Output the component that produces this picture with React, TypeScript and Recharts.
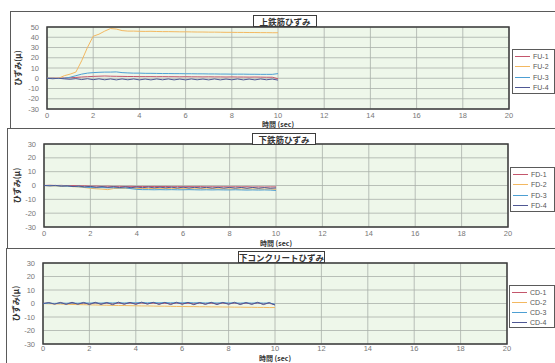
import React from "react";
import { CartesianGrid, Line, LineChart, ReferenceArea, XAxis, YAxis } from "recharts";

// time axis (sec), sampled every 0.25 s up to 10 s
const T = [
  0, 0.25, 0.5, 0.75, 1, 1.25, 1.5, 1.75, 2, 2.25, 2.5, 2.75, 3, 3.25, 3.5, 3.75, 4, 4.25, 4.5,
  4.75, 5, 5.25, 5.5, 5.75, 6, 6.25, 6.5, 6.75, 7, 7.25, 7.5, 7.75, 8, 8.25, 8.5, 8.75, 9, 9.25,
  9.5, 9.75, 10,
];

const X_TICKS = [0, 2, 4, 6, 8, 10, 12, 14, 16, 18, 20];
const Y_TICKS_UPPER = [-30, -20, -10, 0, 10, 20, 30, 40, 50];
const Y_TICKS_LOWER = [-30, -20, -10, 0, 10, 20, 30];

// 上鉄筋ひずみ
const FU_NAMES = ["FU-1", "FU-2", "FU-3", "FU-4"];
const FU1 = [
  0, 0.2, 0, 0.3, 0.5, 0.8, 1.2, 1.5, 1.8, 2.0, 2.2, 2.0, 1.9, 1.8, 1.7, 1.7, 1.6, 1.6, 1.6, 1.5,
  1.6, 1.5, 1.5, 1.4, 1.5, 1.4, 1.4, 1.3, 1.4, 1.3, 1.3, 1.2, 1.3, 1.2, 1.2, 1.1, 1.2, 1.1, 1.0,
  1.0, -0.5,
];
const FU2 = [
  0, 0, 0, 2.5, 4, 6, 17, 30, 41, 43, 46, 48.5, 48, 46.5, 46, 46, 45.8, 45.7, 45.8, 45.6, 45.5,
  45.5, 45.4, 45.3, 45.3, 45.2, 45.1, 45.1, 45, 45, 44.9, 44.8, 44.8, 44.7, 44.7, 44.6, 44.6, 44.5,
  44.5, 44.4, 44.4,
];
const FU3 = [
  0, 0, -0.3, 0, 1, 2.5, 4, 5, 5.5, 5.8, 6, 6, 6.2, 5.5, 5.2, 5, 5, 4.8, 4.8, 4.7, 4.6, 4.6, 4.5,
  4.5, 4.4, 4.4, 4.3, 4.3, 4.2, 4.2, 4.1, 4.1, 4, 4, 4, 3.9, 3.9, 3.8, 3.8, 3.8, 4.5,
];
const FU4 = [
  0, -0.5, 0, -0.6, -1, -0.4, -1.3, -0.5, -1.4, -0.6, -1.5, -0.7, -1.6, -0.7, -1.5, -0.7, -1.6,
  -0.8, -1.6, -0.7, -1.5, -0.7, -1.6, -0.8, -1.6, -0.7, -1.5, -0.8, -1.6, -0.7, -1.6, -0.8, -1.5,
  -0.7, -1.6, -0.8, -1.6, -0.7, -1.5, -0.8, -1.8,
];

// 下鉄筋ひずみ
const FD_NAMES = ["FD-1", "FD-2", "FD-3", "FD-4"];
const FD1 = [
  0, 0.2, 0, 0.1, -0.2, 0, -0.3, -0.2, -0.5, -0.4, -0.6, -0.5, -0.7, -0.6, -0.7, -0.6, -0.8, -0.7,
  -0.8, -0.7, -0.8, -0.7, -0.9, -0.8, -0.9, -0.8, -0.9, -0.8, -1.0, -0.9, -1.0, -0.9, -1.0, -0.9,
  -1.0, -0.9, -1.1, -1.0, -1.1, -1.0, -1.0,
];
const FD2 = [
  0, -0.2, -0.3, -0.5, -0.5, -0.8, -1.0, -1.5, -2.0, -2.4, -2.6, -3.0, -2.2, -2.0, -2.1, -2.0, -2.2,
  -2.1, -2.2, -2.1, -2.3, -2.2, -2.3, -2.2, -2.3, -2.3, -2.4, -2.3, -2.4, -2.3, -2.4, -2.4, -2.5,
  -2.4, -2.5, -2.4, -2.5, -2.5, -2.6, -2.5, -2.8,
];
const FD3 = [
  0, 0, -0.2, -0.3, -0.5, -0.7, -0.9, -1.2, -1.5, -1.6, -1.5, -1.7, -1.6, -1.8, -1.7, -2.3, -2.8,
  -3.0, -3.0, -3.1, -3.0, -3.1, -3.0, -3.1, -3.1, -3.0, -3.1, -3.2, -3.1, -3.2, -3.1, -3.2, -3.2,
  -3.1, -3.2, -3.3, -3.2, -3.3, -3.2, -3.3, -3.6,
];
const FD4 = [
  0, -0.3, 0.1, -0.5, -0.2, -0.8, -0.4, -1.0, -0.6, -1.3, -0.8, -1.4, -0.9, -1.5, -1.0, -1.6, -1.1,
  -1.6, -1.1, -1.7, -1.2, -1.7, -1.2, -1.8, -1.2, -1.8, -1.3, -1.8, -1.3, -1.9, -1.3, -1.9, -1.4,
  -1.9, -1.4, -2.0, -1.4, -2.0, -1.5, -2.0, -1.8,
];

// 下コンクリートひずみ
const CD_NAMES = ["CD-1", "CD-2", "CD-3", "CD-4"];
const CD1 = [
  0, 0.3, -0.2, 0.4, -0.1, 0.3, -0.3, 0.2, -0.2, 0.4, -0.1, 0.3, -0.3, 0.2, -0.2, 0.3, 0, 0.4, -0.1,
  0.3, -0.2, 0.2, -0.3, 0.3, -0.1, 0.2, -0.3, 0.3, -0.2, 0.2, -0.3, 0.3, -0.2, 0.2, -0.3, 0.2, -0.2,
  0.3, -0.3, 0.1, -0.8,
];
const CD2 = [
  0, -0.2, -0.3, -0.4, -0.6, -0.7, -0.8, -0.9, -1.0, -1.1, -1.2, -1.3, -1.4, -1.5, -1.5, -1.6, -1.7,
  -1.8, -1.8, -1.9, -2.0, -2.0, -2.1, -2.2, -2.2, -2.3, -2.3, -2.4, -2.4, -2.5, -2.5, -2.6, -2.6,
  -2.7, -2.7, -2.8, -2.8, -2.9, -2.9, -3.0, -3.0,
];
const CD3 = [
  0, 0.2, 0.1, 0.3, 0.2, 0.4, 0.2, 0.5, 0.3, 0.5, 0.3, 0.6, 0.4, 0.6, 0.4, 0.6, 0.5, 0.7, 0.5, 0.7,
  0.5, 0.7, 0.5, 0.6, 0.5, 0.7, 0.5, 0.6, 0.4, 0.6, 0.4, 0.6, 0.4, 0.5, 0.3, 0.5, 0.3, 0.5, 0.3,
  0.4, -0.5,
];
const CD4 = [
  0, 0.7, -0.5, 0.8, -0.7, 0.9, -0.6, 0.8, -0.8, 0.9, -0.7, 0.7, -0.9, 1.0, -0.6, 0.8, -0.7, 1.0,
  -0.5, 0.9, -0.7, 0.8, -0.8, 0.9, -0.6, 0.8, -0.9, 0.7, -0.7, 0.9, -0.8, 0.8, -0.6, 0.9, -0.8, 0.7,
  -0.7, 0.9, -0.8, 0.7, -1.2,
];

const COLORS = ["#c4566c", "#f3b861", "#4d9fd3", "#4f5894"];
const PLOT_BG = "#eef7ea";
const GRID = "#a9b0a9";
const BORDER = "#3c3c3c";
const FRAME = "#5a5a5a";
const FONT = "'Liberation Sans', Arial, sans-serif";
const JP_FONT = "'Noto Sans CJK JP', sans-serif";

const tickStyle = { fill: "#777", fontSize: 7.5, fontFamily: FONT };

type PanelProps = {
  top: number;
  height: number;
  marginTop: number;
  axisH: number;
  tickGap: number;
  yW: number;
  right: number;
  yTicks: number[];
  yLabelX: number;
  title: string;
  titleBox: { left: number; top: number; width: number };
  xLabelTop: number;
  legend: { left: number; top: number; width: number; height: number; row: number };
  names: string[];
  series: number[][];
};

function StrainPanel(p: PanelProps) {
  const rows = T.map((t, i) => {
    const row: Record<string, number> = { t };
    p.names.forEach((n, k) => (row[n] = p.series[k][i]));
    return row;
  });
  const ymin = p.yTicks[0];
  const ymax = p.yTicks[p.yTicks.length - 1];
  const plotLeft = p.yW;
  const plotRight = 555 - p.right;

  return (
    <div style={{ position: "absolute", left: 0, top: p.top, width: 555, height: p.height }}>
      <LineChart
        width={555}
        height={p.height}
        data={rows}
        margin={{ top: p.marginTop, right: p.right, bottom: 0, left: 0 }}
      >
        <CartesianGrid stroke={GRID} fill={PLOT_BG} fillOpacity={1} strokeWidth={0.8} />
        <XAxis
          type="number"
          dataKey="t"
          domain={[0, 20]}
          ticks={X_TICKS}
          interval={0}
          tick={tickStyle}
          tickLine={false}
          axisLine={false}
          tickSize={0}
          tickMargin={p.tickGap}
          height={p.axisH}
        />
        <YAxis
          domain={[ymin, ymax]}
          ticks={p.yTicks}
          interval={0}
          tick={tickStyle}
          tickLine={false}
          axisLine={false}
          tickSize={0}
          tickMargin={8}
          width={p.yW}
          label={{
            value: "ひずみ(μ)",
            angle: -90,
            position: "insideLeft",
            offset: p.yLabelX,
            style: { textAnchor: "middle" },
            fill: "#333",
            fontSize: 8,
            fontWeight: 700,
            fontFamily: JP_FONT,
          }}
        />
        <ReferenceArea
          x1={0}
          x2={20}
          y1={ymin}
          y2={ymax}
          fill="none"
          stroke={BORDER}
          strokeWidth={1.5}
        />
        {p.names.map((n, k) => (
          <Line
            key={n}
            type="linear"
            dataKey={n}
            name={n}
            stroke={COLORS[k]}
            strokeWidth={1}
            dot={false}
            isAnimationActive={false}
          />
        ))}
      </LineChart>

      {/* x axis title */}
      <div
        style={{
          position: "absolute",
          left: plotLeft,
          width: plotRight - plotLeft,
          top: p.xLabelTop,
          textAlign: "center",
          fontFamily: JP_FONT,
          fontWeight: 700,
          fontSize: 7,
          lineHeight: "8px",
          color: "#333",
        }}
      >
        時間 (sec)
      </div>

      {/* chart title */}
      <div
        style={{
          position: "absolute",
          left: p.titleBox.left,
          top: p.titleBox.top,
          width: p.titleBox.width,
          height: 10,
          border: `1px solid ${BORDER}`,
          background: "#fff",
          fontFamily: JP_FONT,
          fontWeight: 700,
          fontSize: 8.5,
          lineHeight: "10px",
          textAlign: "center",
          color: "#333",
          whiteSpace: "nowrap",
        }}
      >
        {p.title}
      </div>

      {/* legend */}
      <div
        style={{
          position: "absolute",
          left: p.legend.left,
          top: p.legend.top,
          width: p.legend.width,
          height: p.legend.height,
          border: `1.5px solid ${FRAME}`,
          background: "#fff",
          boxSizing: "border-box",
          padding: "1px 0 0 2px",
          fontFamily: FONT,
          fontSize: 7,
          color: "#555",
        }}
      >
        {p.names.map((n, k) => (
          <div key={n} style={{ display: "flex", alignItems: "center", height: p.legend.row }}>
            <span
              style={{ width: 15, height: 0, borderTop: `1px solid ${COLORS[k]}`, marginRight: 3 }}
            />
            <span>{n}</span>
          </div>
        ))}
      </div>
    </div>
  );
}

function Rule({ left, top, width, height }: { left: number; top: number; width: number; height: number }) {
  return <div style={{ position: "absolute", left, top, width, height, background: FRAME }} />;
}

export default function App() {
  return (
    <div
      style={{
        position: "absolute",
        left: 0,
        top: 0,
        width: 555,
        height: 363,
        background: "#fff",
        overflow: "hidden",
      }}
    >
      <StrainPanel
        top={0}
        height={128}
        marginTop={27}
        axisH={19}
        tickGap={4}
        yW={47}
        right={46}
        yTicks={Y_TICKS_UPPER}
        yLabelX={18}
        title="上鉄筋ひずみ"
        titleBox={{ left: 253, top: 15, width: 62 }}
        xLabelTop={120}
        legend={{ left: 512, top: 49, width: 43, height: 45, row: 10.5 }}
        names={FU_NAMES}
        series={[FU1, FU2, FU3, FU4]}
      />
      <StrainPanel
        top={128}
        height={120}
        marginTop={16}
        axisH={21}
        tickGap={4}
        yW={44}
        right={47}
        yTicks={Y_TICKS_LOWER}
        yLabelX={17}
        title="下鉄筋ひずみ"
        titleBox={{ left: 252, top: 5, width: 62 }}
        xLabelTop={111}
        legend={{ left: 510, top: 39, width: 45, height: 45, row: 10.5 }}
        names={FD_NAMES}
        series={[FD1, FD2, FD3, FD4]}
      />
      <StrainPanel
        top={248}
        height={115}
        marginTop={15}
        axisH={19}
        tickGap={2}
        yW={43}
        right={48}
        yTicks={Y_TICKS_LOWER}
        yLabelX={16}
        title="下コンクリートひずみ"
        titleBox={{ left: 238, top: 3, width: 85 }}
        xLabelTop={106}
        legend={{ left: 509, top: 37, width: 46, height: 43, row: 10 }}
        names={CD_NAMES}
        series={[CD1, CD2, CD3, CD4]}
      />
      <Rule left={10} top={11} width={545} height={1} />
      <Rule left={10} top={11} width={1} height={117} />
      <Rule left={7} top={128} width={548} height={1} />
      <Rule left={7} top={128} width={1} height={120} />
      <Rule left={6} top={248} width={549} height={1} />
      <Rule left={6} top={248} width={1} height={115} />
    </div>
  );
}
